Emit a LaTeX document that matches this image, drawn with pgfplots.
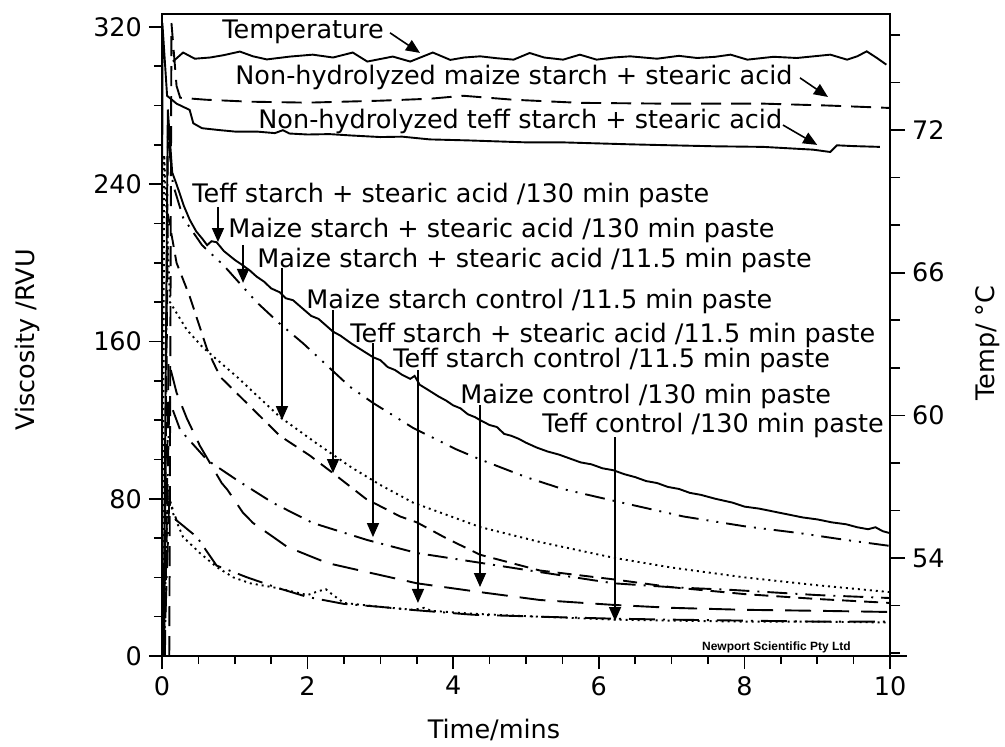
\documentclass[border=0pt]{standalone}
\usepackage{fontspec}
\setmainfont{DejaVu Sans}
\newfontfamily\stampfont{Liberation Sans}
\usepackage{pgfplots}
\pgfplotsset{compat=1.18}
\usetikzlibrary{arrows.meta}
\tikzset{
 pnh/.style={dash pattern=on 10pt off 5pt},
 pdash/.style={dash pattern=on 7pt off 4pt},
 plong/.style={dash pattern=on 13pt off 6pt},
 pdd/.style={dash pattern=on 10pt off 4pt on 1pt off 4pt on 1pt off 4pt},
 pdot/.style={dash pattern=on 1pt off 2pt},
 pdashdot/.style={dash pattern=on 10pt off 4pt on 1pt off 4pt},
 plongdashdot/.style={dash pattern=on 13pt off 4pt on 1pt off 4pt},
 arr/.style={line width=0.8pt,-{Triangle[length=7pt,width=6pt]}},
}
\newcommand{\lab}{\fontsize{12.75}{15}\selectfont}
\begin{document}
\begin{tikzpicture}[font=\lab]
\begin{axis}[
  name=main,
  scale only axis, width=364pt, height=321pt,
  xmin=0, xmax=10, ymin=0, ymax=326.6,
  xtick={0,2,...,10}, minor xtick={0,0.5,...,10},
  ytick={0,80,...,320}, minor ytick={0,20,...,320},
  xtick pos=bottom, ytick pos=left,
  tick align=outside,
  major tick length=6.5pt, minor tick length=4pt,
  axis line style={line width=1pt},
  every tick/.style={line width=0.8pt, black},
  /pgf/number format/assume math mode=true,
  ticklabel style={font=\lab},
  clip=false,
  every axis plot/.append style={black, line width=0.95pt},
]
% Non-hydrolyzed teff + stearic acid (solid)
\addplot[solid] coordinates {(0,0) (0.005,322) (0.07,285) (0.2,281) (0.38,277.8) (0.43,271) (0.55,268.5) (0.8,267.5) (1.0,266.8) (1.3,266.8) (1.55,266) (1.66,267.5) (1.75,265.8) (2.0,265.3) (2.3,265.5) (2.6,264.8) (3.0,264) (3.3,264.2) (3.68,262.8) (4.2,262.3) (5.0,261.3) (5.5,261.3) (6.43,260.3) (7.0,259.8) (7.6,259.3) (8.26,259) (8.94,257.6) (9.18,256.4) (9.27,259.8) (9.5,259.4) (9.86,259)};
% Non-hydrolyzed maize + stearic acid (dashed)
\addplot[pnh] coordinates {(0.1,0) (0.13,322) (0.2,290) (0.25,284) (0.6,283) (1.2,282) (2.0,281.5) (3.0,282.5) (3.68,283.5) (4.14,285) (4.82,283) (5.74,281.4) (6.9,281) (8.26,281) (9.18,280) (10,278.8)};
% Teff starch + stearic acid /130 min paste (solid, jagged)
\addplot[solid] coordinates {(0.02,0) (0.08,278) (0.14,246) (0.2,240) (0.3,229) (0.38,222) (0.47,216) (0.56,212) (0.62,209) (0.68,211) (0.75,210.5) (0.85,206) (1.0,201.5) (1.1,199) (1.21,196) (1.3,193) (1.4,190.5) (1.5,187) (1.62,185) (1.7,182) (1.8,181) (1.94,176.5) (2.05,173) (2.15,171.5) (2.35,165) (2.45,163) (2.6,159) (2.75,155.5) (2.9,152) (3.0,150.5) (3.1,147) (3.2,145.5) (3.3,143) (3.41,141) (3.47,142.5) (3.54,138) (3.65,135.5) (3.8,132) (3.9,130) (4.0,127.5) (4.1,126) (4.2,123) (4.3,121.5) (4.37,120) (4.5,117.5) (4.6,116.5) (4.7,113) (4.8,112) (4.9,110.5) (5.0,108.5) (5.15,106) (5.3,104) (5.45,102.5) (5.6,100.5) (5.75,98.5) (5.9,97.5) (6.05,95.5) (6.2,94.5) (6.35,92.5) (6.5,91) (6.65,89) (6.8,88) (6.95,86) (7.1,85) (7.25,83) (7.4,82) (7.6,80) (7.84,78) (8.0,76) (8.2,75) (8.4,73.5) (8.6,72) (8.8,70.5) (9.0,69.5) (9.2,68) (9.4,67) (9.55,65.5) (9.7,64.5) (9.8,65.5) (9.9,63.5) (10,62.5)};
% Maize starch + stearic acid /130 min paste (dash-dot-dot)
\addplot[pdd] coordinates {(0.03,0) (0.08,265) (0.15,240) (0.29,223) (0.55,209) (0.84,199) (1.3,180) (1.62,169) (1.94,159) (2.58,137) (2.9,128.7) (3.3,119.5) (3.45,116) (4.05,105) (4.37,100) (5.0,91) (5.5,85) (6.2,79) (7.16,71) (8.0,66) (8.76,62.5) (9.4,59) (10,56)};
% Maize starch + stearic acid /11.5 min paste (dotted)
\addplot[pdot] coordinates {(0.01,0) (0.03,255) (0.11,180) (0.34,166) (0.56,157) (1.03,142) (1.62,121.6) (2.13,108) (2.6,96) (3.0,87) (3.45,78) (4.37,65.6) (5.19,58) (6.2,50) (7.0,45) (8.0,40) (9.0,36) (10,32.5)};
% Maize starch control /11.5 min paste (dashed)
\addplot[pdash] coordinates {(0.03,0) (0.08,225) (0.2,200) (0.38,183) (0.62,156) (0.8,142) (1.21,127) (1.62,112) (2.03,102) (2.35,93) (2.8,80) (3.27,71) (3.5,68) (3.9,60) (4.37,51.5) (5.19,43.5) (6.2,39) (7.0,35) (8.0,31.5) (9.0,29) (10,27)};
% Maize control /130 min paste (long dash)
\addplot[plong] coordinates {(0.04,0) (0.09,150) (0.2,134) (0.34,121) (0.52,107) (0.82,88) (0.9,84.5) (1.11,73) (1.25,67.7) (1.51,61) (1.72,55.5) (2.27,47.3) (2.9,42) (3.5,37) (4.37,32.5) (5.19,28.5) (6.2,26) (7.0,24.5) (8.0,23.5) (9.0,23) (10,22.4)};
% Teff starch + stearic acid /11.5 min paste (dash-dot)
\addplot[pdashdot] coordinates {(0.03,0) (0.1,130) (0.25,115) (0.62,99.7) (1.03,89.5) (1.52,78) (2.07,67.7) (2.82,59) (3.5,52.4) (4.27,48) (5.19,42.7) (6.2,37) (7.0,35) (7.84,33.6) (9.0,31) (10,29.5)};
% Teff starch control /11.5 min paste (long dash-dot)
\addplot[plongdashdot] coordinates {(0.03,0) (0.1,80) (0.2,69) (0.48,60.5) (0.75,46) (1.17,40) (1.6,34.5) (2.0,30) (2.5,26.5) (3.0,25) (3.45,23.4) (4.27,21) (5.19,20) (6.2,19) (7.0,18.5) (8.0,18) (9.0,17.5) (10,17.5)};
% Teff control /130 min paste (dotted)
\addplot[pdot] coordinates {(0.02,0) (0.08,85) (0.15,72.7) (0.29,60.5) (0.52,52.4) (0.75,45.3) (0.98,40) (1.21,37) (1.58,34.6) (2.0,31) (2.15,33) (2.25,34) (2.35,31) (2.5,27) (3.0,25) (3.45,23.5) (3.6,24.5) (3.7,23) (4.27,21.5) (5.19,20) (6.2,18.5) (7.0,18) (8.0,17.5) (9.0,17.5) (10,17)};

% labels
\node[anchor=base west, inner sep=0pt] at (axis cs:0.824,313.9) {Temperature};
\node[anchor=base west, inner sep=0pt] at (axis cs:1.003,290.5) {Non-hydrolyzed maize starch + stearic acid};
\node[anchor=base west, inner sep=0pt] at (axis cs:1.319,268.6) {Non-hydrolyzed teff starch + stearic acid};
\node[anchor=base west, inner sep=0pt] at (axis cs:0.412,230.5) {Teff starch + stearic acid /130 min paste};
\node[anchor=base west, inner sep=0pt] at (axis cs:0.907,212.7) {Maize starch + stearic acid /130 min paste};
\node[anchor=base west, inner sep=0pt] at (axis cs:1.305,197.4) {Maize starch + stearic acid /11.5 min paste};
\node[anchor=base west, inner sep=0pt] at (axis cs:1.978,177) {Maize starch control /11.5 min paste};
\node[anchor=base west, inner sep=0pt] at (axis cs:2.582,159.7) {Teff starch + stearic acid /11.5 min paste};
\node[anchor=base west, inner sep=0pt] at (axis cs:3.173,147) {Teff starch control /11.5 min paste};
\node[anchor=base west, inner sep=0pt] at (axis cs:4.093,128.7) {Maize control /130 min paste};
\node[anchor=base west, inner sep=0pt] at (axis cs:5.22,113.5) {Teff control /130 min paste};
% arrows
\draw[arr] (axis cs:3.132,317) -- (axis cs:3.544,306.8);
\draw[arr] (axis cs:8.764,294.1) -- (axis cs:9.148,284.4);
\draw[arr] (axis cs:8.53,270.1) -- (axis cs:9.0,260);
\draw[arr] (axis cs:0.769,228.4) -- (axis cs:0.769,210.6);
\draw[arr] (axis cs:1.113,209.1) -- (axis cs:1.113,189.8);
\draw[arr] (axis cs:1.648,197.4) -- (axis cs:1.648,120);
\draw[arr] (axis cs:2.349,176) -- (axis cs:2.349,93.1);
\draw[arr] (axis cs:2.898,159.2) -- (axis cs:2.898,60.5);
\draw[arr] (axis cs:3.516,145.5) -- (axis cs:3.516,27);
\draw[arr] (axis cs:4.368,127.7) -- (axis cs:4.368,35.1);
\draw[arr] (axis cs:6.223,111.4) -- (axis cs:6.223,17.8);
% stamp
\node[inner sep=0pt] at (axis cs:8.44,4.3) {\stampfont\fontsize{6}{7}\selectfont\bfseries Newport Scientific Pty Ltd};
% axis titles
\node[rotate=90] at (axis cs:-1.854,160.8) {Viscosity /RVU};
\node at (axis cs:4.56,-37.6) {Time/mins};
\node[rotate=90] at (axis cs:11.346,159.2) {Temp/ °C};
\end{axis}
\begin{axis}[
  scale only axis, width=364pt, height=321pt,
  xmin=0, xmax=10, ymin=49.88, ymax=76.88,
  axis x line=none, axis y line*=right,
  ytick={54,60,66,72}, minor ytick={50,52,...,76},
  tick align=outside,
  major tick length=7.5pt, minor tick length=5pt,
  axis line style={line width=1pt},
  every tick/.style={line width=0.8pt, black},
  /pgf/number format/assume math mode=true,
  ticklabel style={font=\lab},
  clip=false,
]
\addplot[black, solid, line width=0.95pt] coordinates {(0.15,74.88) (0.29,75.26) (0.45,75.0) (0.66,75.05) (0.85,75.15) (1.07,75.3) (1.25,75.1) (1.44,74.97) (1.76,75.09) (2.07,75.17) (2.35,75.05) (2.62,75.26) (2.82,74.88) (3.17,75.09) (3.41,74.88) (3.72,75.26) (3.96,74.95) (4.15,75.05) (4.37,75.1) (4.6,75.02) (4.83,74.96) (5.05,75.24) (5.25,75.05) (5.51,74.96) (5.74,75.17) (5.97,74.96) (6.2,75.05) (6.43,75.1) (6.8,75.0) (7.1,75.12) (7.35,75.03) (7.6,75.08) (7.81,75.17) (8.04,74.96) (8.4,75.08) (8.72,75.03) (8.95,75.1) (9.18,75.17) (9.41,74.96) (9.55,75.1) (9.68,75.31) (9.82,75.03) (9.95,74.75)};
\end{axis}
\draw[line width=1pt] (main.south east) -- ([xshift=8.5pt]main.south east);
\draw[line width=1pt] (main.south east) -- ([yshift=-6pt]main.south east);
\pgfresetboundingbox
\path ([shift={(-81pt,-45pt)}]main.south west) rectangle ([shift={(57.5pt,7pt)}]main.north east);
\end{tikzpicture}
\end{document}
